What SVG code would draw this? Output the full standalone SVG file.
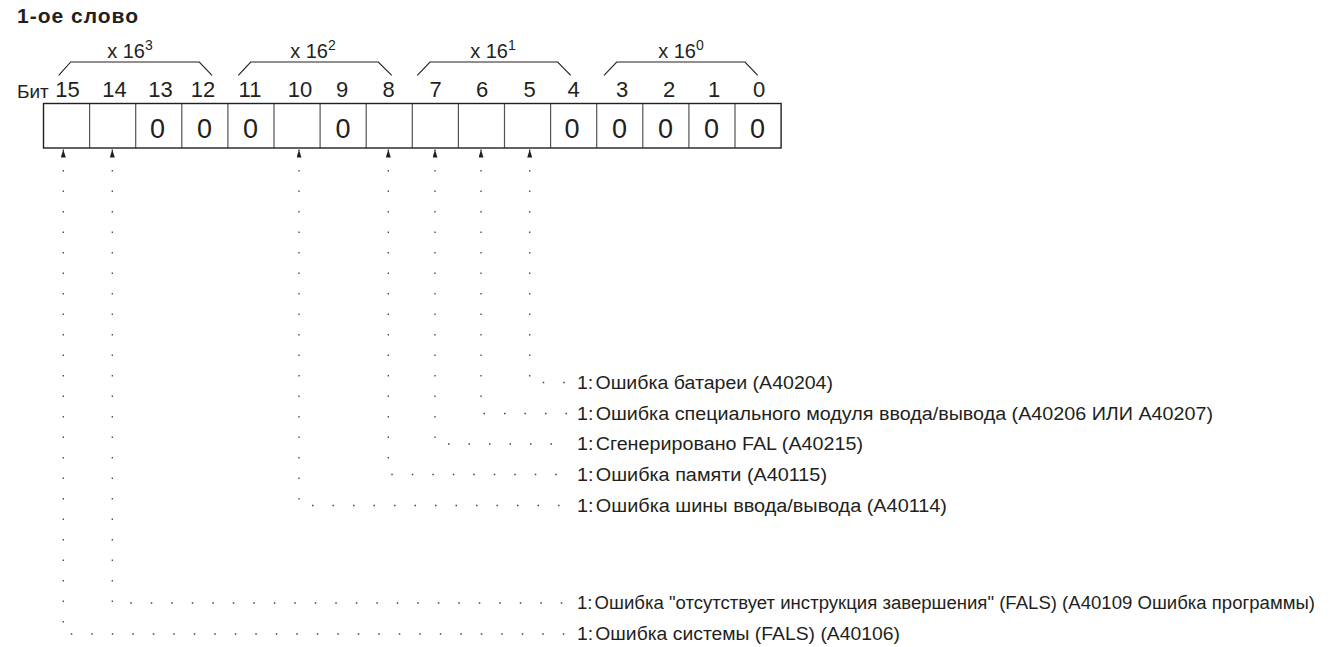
<svg xmlns="http://www.w3.org/2000/svg" width="1331" height="647" viewBox="0 0 1331 647">
<style>
text{font-family:"Liberation Sans",Arial,sans-serif;fill:#231f20}
.title{font-size:21px;font-weight:bold;letter-spacing:1px}
.bit{font-size:22px;text-anchor:middle}
.zero{font-size:27px;text-anchor:middle}
.grp{font-size:20px;text-anchor:middle}
.sup{font-size:14px}
.lbl{font-size:18px}
.cell{fill:none;stroke:#555;stroke-width:1.2}
.outer{fill:none;stroke:#231f20;stroke-width:1.4}
.brace{fill:none;stroke:#231f20;stroke-width:1.1}
.conn{fill:none;stroke:#444;stroke-width:1.3;stroke-dasharray:1.5 19;marker-start:url(#arr)}
</style>
<defs>
<marker id="arr" viewBox="0 0 8 5" refX="8" refY="2.5" markerWidth="8" markerHeight="5" markerUnits="userSpaceOnUse" orient="auto-start-reverse">
<path d="M0,0 L8,2.5 L0,5 z" fill="#231f20"/>
</marker>
</defs>
<rect width="1331" height="647" fill="#fff"/>
<text class="title" x="17" y="23">1-ое слово</text>

<g id="groups">
<path class="brace" d="M58.7,75.3 L70.7,62 H199.3 L212,75.3"/>
<path class="brace" d="M238.3,75.3 L250.7,62 H378.3 L391.7,75.3"/>
<path class="brace" d="M417.3,75.3 L430,62 H557.7 L570.7,75.3"/>
<path class="brace" d="M604,75.3 L616.7,62 H745 L757.7,75.3"/>
<text class="grp" x="130" y="57.5">x 16<tspan class="sup" dy="-8">3</tspan></text>
<text class="grp" x="313" y="57.5">x 16<tspan class="sup" dy="-8">2</tspan></text>
<text class="grp" x="493" y="57.5">x 16<tspan class="sup" dy="-8">1</tspan></text>
<text class="grp" x="681" y="57.5">x 16<tspan class="sup" dy="-8">0</tspan></text>
</g>

<g id="bits">
<text x="17" y="97.5" style="font-size:19px">Бит</text>
<text class="bit" x="67.5" y="97">15</text>
<text class="bit" x="114.5" y="97">14</text>
<text class="bit" x="160.5" y="97">13</text>
<text class="bit" x="203" y="97">12</text>
<text class="bit" x="250" y="97">11</text>
<text class="bit" x="300" y="97">10</text>
<text class="bit" x="342" y="97">9</text>
<text class="bit" x="388.5" y="97">8</text>
<text class="bit" x="435.5" y="97">7</text>
<text class="bit" x="482" y="97">6</text>
<text class="bit" x="529.5" y="97">5</text>
<text class="bit" x="573.5" y="97">4</text>
<text class="bit" x="622" y="97">3</text>
<text class="bit" x="669" y="97">2</text>
<text class="bit" x="714" y="97">1</text>
<text class="bit" x="759" y="97">0</text>
</g>

<g id="register">
<path class="cell" d="M89.6,103.5V148 M135.7,103.5V148 M181.8,103.5V148 M227.9,103.5V148 M274,103.5V148 M320.1,103.5V148 M366.2,103.5V148 M412.3,103.5V148 M458.4,103.5V148 M504.5,103.5V148 M550.6,103.5V148 M596.7,103.5V148 M642.8,103.5V148 M688.9,103.5V148 M735,103.5V148"/>
<rect class="outer" x="43.5" y="103.5" width="737.6" height="44.5"/>
<text class="zero" x="157.5" y="137.5">0</text>
<text class="zero" x="204.5" y="137.5">0</text>
<text class="zero" x="250.5" y="137.5">0</text>
<text class="zero" x="343" y="137.5">0</text>
<text class="zero" x="572" y="137.5">0</text>
<text class="zero" x="619.5" y="137.5">0</text>
<text class="zero" x="665.5" y="137.5">0</text>
<text class="zero" x="711.5" y="137.5">0</text>
<text class="zero" x="757.5" y="137.5">0</text>
</g>

<g id="connectors">
<path class="conn" d="M529.7,149.5 V382.5 H567"/>
<path class="conn" d="M481,149.5 V413.5 H567"/>
<path class="conn" d="M435,149.5 V444 H567"/>
<path class="conn" d="M388.3,149.5 V474.5 H567"/>
<path class="conn" d="M299,149.5 V505.5 H567"/>
<path class="conn" d="M112.3,149.5 V603 H567"/>
<path class="conn" d="M63.3,149.5 V634 H567"/>
</g>

<g id="labels">
<text class="lbl" x="577" y="388.5" textLength="256" lengthAdjust="spacingAndGlyphs">1:<tspan dx="2">Ошибка батареи (A40204)</tspan></text>
<text class="lbl" x="577" y="419.5" textLength="636" lengthAdjust="spacingAndGlyphs">1:<tspan dx="2">Ошибка специального модуля ввода/вывода (A40206 ИЛИ A40207)</tspan></text>
<text class="lbl" x="577" y="450" textLength="286" lengthAdjust="spacingAndGlyphs">1:<tspan dx="2">Сгенерировано FAL (A40215)</tspan></text>
<text class="lbl" x="577" y="480.5" textLength="250" lengthAdjust="spacingAndGlyphs">1:<tspan dx="2">Ошибка памяти (A40115)</tspan></text>
<text class="lbl" x="577" y="511.5" textLength="370" lengthAdjust="spacingAndGlyphs">1:<tspan dx="2">Ошибка шины ввода/вывода (A40114)</tspan></text>
<text class="lbl" x="577" y="609" textLength="738" lengthAdjust="spacingAndGlyphs">1:<tspan dx="2">Ошибка "отсутствует инструкция завершения" (FALS) (A40109 Ошибка программы)</tspan></text>
<text class="lbl" x="577" y="640" textLength="323" lengthAdjust="spacingAndGlyphs">1:<tspan dx="2">Ошибка системы (FALS) (A40106)</tspan></text>
</g>
</svg>
